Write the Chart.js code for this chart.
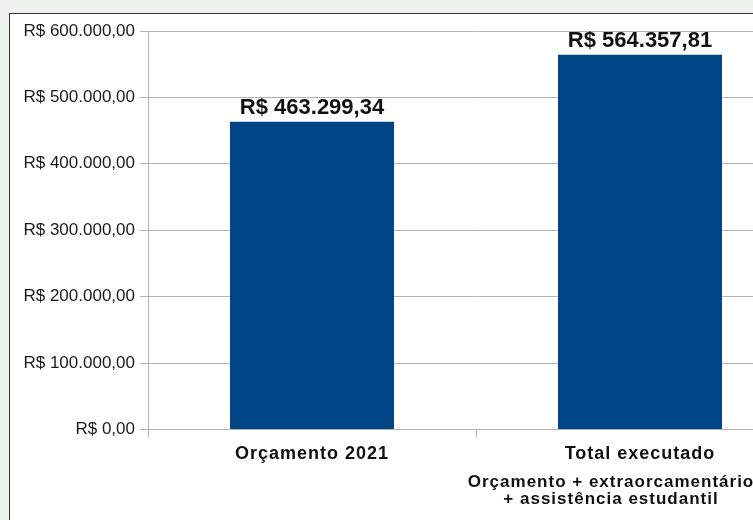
<!DOCTYPE html>
<html>
<head>
<meta charset="utf-8">
<script src="https://cdn.jsdelivr.net/npm/chart.js@4"></script>
<style>
  html, body { margin: 0; padding: 0; overflow: hidden; background: #edf3ec; width: 753px; height: 520px; }
  #panel { position: absolute; left: 9px; top: 13px; width: 820px; height: 520px; background: #fff;
           border-left: 1px solid #333; border-top: 1px solid #333; }
  #wrap { position: relative; width: 800px; height: 506px; }
</style>
</head>
<body>
<div id="panel"><div id="wrap"><canvas id="myChart"></canvas></div></div>
<script>
// chart data
const categories = ['Orçamento 2021', 'Total executado'];
const subLabels = ['', ['Orçamento + extraorcamentário', '+ assistência estudantil']];
const values = [463299.34, 564357.81];
const yTicks = [0, 100000, 200000, 300000, 400000, 500000, 600000];

// R$ 1.234,56 style
function brl(v) {
  const parts = v.toFixed(2).split('.');
  const int = parts[0].replace(/\B(?=(\d{3})+(?!\d))/g, '.');
  return 'R$ ' + int + ',' + parts[1];
}

// draws the value above each bar, then widens letters for the x labels (ticks.z: 1, drawn after)
const barValues = {
  id: 'barValues',
  afterDatasetsDraw(chart) {
    const ctx = chart.ctx;
    const meta = chart.getDatasetMeta(0);
    ctx.save();
    ctx.font = 'bold 22px "Liberation Sans", Arial, sans-serif';
    ctx.fillStyle = '#111';
    ctx.textAlign = 'center';
    ctx.textBaseline = 'bottom';
    meta.data.forEach((bar, i) => {
      ctx.fillText(brl(values[i]), bar.x, bar.y - 3);
    });
    ctx.restore();
    ctx.letterSpacing = '1px';
  },
  afterDraw(chart) {
    chart.ctx.letterSpacing = '0px';
  }
};

const ctx = document.getElementById('myChart').getContext('2d');
const myChart = new Chart(ctx, {
  type: 'bar',
  data: {
    labels: categories,
    datasets: [{
      data: values,
      backgroundColor: '#004586',
      barPercentage: 0.5,
      categoryPercentage: 1.0
    }]
  },
  options: {
    responsive: true,
    maintainAspectRatio: false,
    animation: false,
    layout: { padding: { top: 17, right: 6, bottom: 9, left: 0 } },
    plugins: {
      legend: { display: false },
      tooltip: { enabled: false }
    },
    scales: {
      x: {
        grid: { display: true, drawOnChartArea: false, drawTicks: true, tickLength: 8, color: '#b3b3b3', offset: true },
        border: { color: '#b3b3b3' },
        ticks: {
          z: 1,
          color: '#111',
          padding: 6,
          font: { family: '"Liberation Sans", Arial, sans-serif', size: 18, weight: 'bold' }
        }
      },
      x2: {
        type: 'category',
        labels: subLabels,
        position: 'bottom',
        grid: { display: false, drawTicks: false },
        border: { display: false },
        ticks: {
          z: 1,
          color: '#111',
          padding: 3,
          labelOffset: -29,
          font: { family: '"Liberation Sans", Arial, sans-serif', size: 17, weight: 'bold', lineHeight: 1.0 }
        }
      },
      y: {
        min: 0,
        max: 600000,
        afterFit(scale) { scale.width = 138; },
        afterBuildTicks(scale) { scale.ticks = yTicks.map(v => ({ value: v })); },
        grid: { color: '#b3b3b3', tickLength: 8 },
        border: { color: '#b3b3b3' },
        ticks: {
          color: '#1a1a1a',
          padding: 5,
          font: { family: '"Liberation Sans", Arial, sans-serif', size: 17 },
          callback: v => brl(v)
        }
      }
    }
  },
  plugins: [barValues]
});
</script>
</body>
</html>
